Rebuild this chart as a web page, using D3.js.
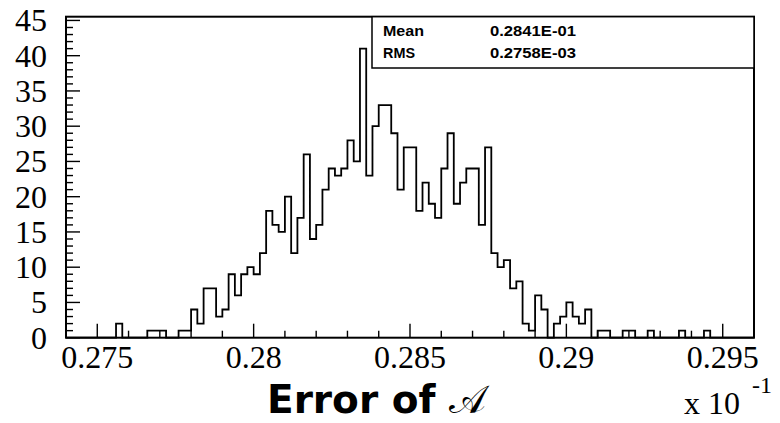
<!DOCTYPE html>
<html><head><meta charset="utf-8">
<script src="https://cdn.jsdelivr.net/npm/d3@7"></script>
<style>html,body{margin:0;padding:0;background:#fff;} svg{display:block;}</style>
</head><body>
<svg id="c" width="780" height="423"></svg>
<script>
// ---- data ----
const binLow = 0.274, binHigh = 0.296, nBins = 110;
const counts = [
  0,0,0,0,0,0,0,0,2,0,
  0,0,0,1,1,1,0,0,1,1,
  4,2,7,7,3,4,9,6,9,10,
  9,12,18,16,15,20,12,17,26,14,
  16,21,24,23,24,28,25,41,23,30,
  33,33,29,21,27,27,18,22,19,17,
  24,29,19,22,24,24,16,27,12,10,
  11,7,8,2,1,6,4,0,2,3,
  5,3,2,4,0,1,1,0,0,1,
  1,0,0,1,0,0,0,0,1,0,
  0,0,1,0,0,0,0,0,0,0
];
const xTicks = [0.275, 0.28, 0.285, 0.29, 0.295];
const xTickLabels = ["0.275", "0.28", "0.285", "0.29", "0.295"];
const yTicks = [0, 5, 10, 15, 20, 25, 30, 35, 40, 45];
const statsLabels = ["Mean", "RMS"];
const statsValues = ["0.2841E-01", "0.2758E-03"];
const xTitleText = "Error of";
const xTitleSymbol = "\u{1D49C}";
const exponentBase = "x 10";
const exponentPower = "-1";

// ---- layout ----
const L = 66, R = 754, T = 16.7, B = 337.7;
const svg = d3.select("#c");
const x = d3.scaleLinear().domain([binLow, binHigh]).range([L, R]);
const y = d3.scaleLinear().domain([0, 45.53]).range([B, T]);
const binW = (binHigh - binLow) / nBins;

// ticks (major + minor)
const xMinor = d3.range(0, 23).map(i => binLow + i * 0.001);
const yMinor = d3.range(0, 46);
const tk = svg.append("g").attr("stroke", "#000").attr("stroke-width", 1.4);
xMinor.forEach(v => {
  const major = xTicks.some(t => Math.abs(t - v) < 1e-9);
  tk.append("line").attr("x1", x(v)).attr("x2", x(v)).attr("y1", B).attr("y2", B - (major ? 14 : 7));
});
yMinor.forEach(v => {
  const major = yTicks.includes(v);
  tk.append("line").attr("y1", y(v)).attr("y2", y(v)).attr("x1", L).attr("x2", L + (major ? 14 : 7));
});

// histogram outline
const p = d3.path();
p.moveTo(x(binLow), y(0));
counts.forEach((c, i) => {
  const lo = binLow + i * binW, hi = binLow + (i + 1) * binW;
  p.lineTo(x(lo), y(c));
  p.lineTo(x(hi), y(c));
});
p.lineTo(x(binHigh), y(0));
svg.append("path").attr("d", p.toString()).attr("fill", "none")
  .attr("stroke", "#000").attr("stroke-width", 1.8).attr("stroke-linejoin", "miter");

// frame
svg.append("rect").attr("x", L).attr("y", T).attr("width", R - L).attr("height", B - T)
  .attr("fill", "none").attr("stroke", "#000").attr("stroke-width", 2);

// stats box
svg.append("rect").attr("x", 372).attr("y", T).attr("width", R - 372).attr("height", 68 - T)
  .attr("fill", "#fff").attr("stroke", "#000").attr("stroke-width", 1.5);
const labelW = [41, 32];
statsLabels.forEach((s, i) => {
  svg.append("text").attr("x", 383).attr("y", 35.7 + i * 22.6).text(s)
    .attr("textLength", labelW[i]).attr("lengthAdjust", "spacingAndGlyphs")
    .attr("font-family", "Liberation Sans, Arial, sans-serif").attr("font-weight", "bold").attr("font-size", 13.8);
  svg.append("text").attr("x", 490).attr("y", 35.7 + i * 22.6).text(statsValues[i])
    .attr("textLength", 86).attr("lengthAdjust", "spacingAndGlyphs")
    .attr("font-family", "Liberation Sans, Arial, sans-serif").attr("font-weight", "bold").attr("font-size", 13.8);
});

// tick labels
const serif = "Liberation Serif, Times New Roman, serif";
xTicks.forEach((v, i) => {
  svg.append("text").attr("x", x(v)).attr("y", 368.3).attr("text-anchor", "middle")
    .attr("font-family", serif).attr("font-size", 32).text(xTickLabels[i]);
});
yTicks.forEach(v => {
  svg.append("text").attr("x", 47).attr("y", y(v) + 11).attr("text-anchor", "end")
    .attr("font-family", serif).attr("font-size", 32).text(v);
});

// axis title
const title = svg.append("text").attr("x", 267).attr("y", 413)
  .attr("font-family", "DejaVu Sans, sans-serif").attr("font-weight", "bold").attr("font-size", 39);
title.append("tspan").text(xTitleText + " ");
title.append("tspan").attr("font-weight", "normal")
  .attr("font-family", "DejaVu Serif, serif").text(xTitleSymbol);

// exponent
svg.append("text").attr("x", 684).attr("y", 414).attr("font-family", serif).attr("font-size", 32).text(exponentBase);
svg.append("text").attr("x", 752).attr("y", 393).attr("font-family", serif).attr("font-size", 24).text(exponentPower);
</script>
</body></html>
